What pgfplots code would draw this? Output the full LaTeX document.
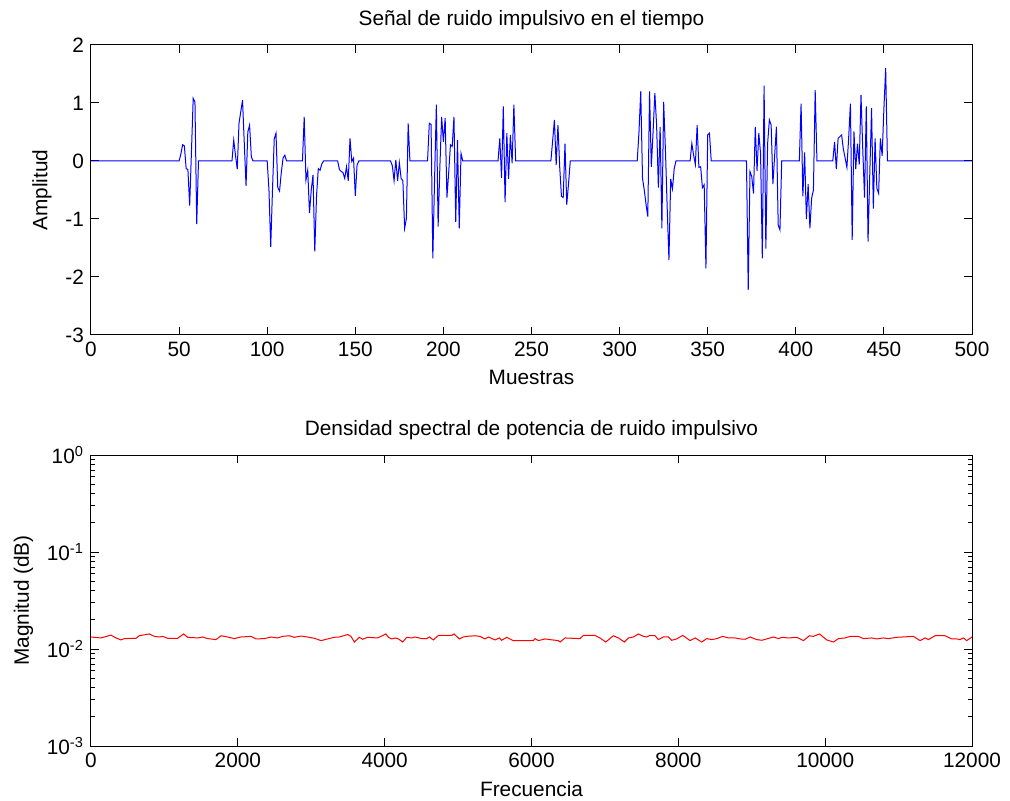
\documentclass[border=0pt]{standalone}
\usepackage{fontspec}
\setmainfont{Liberation Sans}
\usepackage{pgfplots}
\pgfplotsset{compat=1.18}

% time signal
\pgfplotstableread{
n v
0 0
50 0
51 0.12
52 0.28
53 0.26
54 -0.13
55 -0.15
56 -0.77
57 0.15
58 1.08
59 1.02
60 -1.09
61 0
80 0
81 0.36
82 0.1
83 -0.14
84 0.65
85 0.85
86 1.05
87 0.3
88 -0.43
89 0.5
90 0.62
91 0.07
92 0
100 0
101 -0.5
102 -1.48
103 -0.5
104 0.38
105 0.48
106 -0.46
107 -0.52
108 -0.2
109 0.05
110 0.1
111 0
120 0
121 0.76
122 -0.33
123 -0.16
124 -0.9
125 -0.5
126 -0.24
127 -1.56
128 -0.6
129 -0.13
130 -0.16
131 -0.05
132 0
140 0
141 -0.15
142 -0.18
143 -0.2
144 -0.3
145 -0.1
146 -0.34
147 0.39
148 -0.01
149 0.05
150 -0.6
151 -0.07
152 0
170 0
171 -0.08
172 -0.34
173 0.02
174 -0.34
175 -0.03
176 -0.3
177 -0.34
178 -1.16
179 -0.99
180 0.65
181 0
191 0
192 0.65
193 0.63
194 -1.68
195 -0.3
196 0.97
197 -1.13
198 -0.1
199 0.76
200 0.33
201 0.74
202 -0.63
203 -0.2
204 0.28
205 0.25
206 0.76
207 -1.05
208 0.36
209 -1.16
210 0.13
211 0
231 0
232 0.39
233 -0.29
234 0.94
235 -0.71
236 0.48
237 -0.31
238 0.45
239 -0.04
240 0.97
241 0
261 0
262 0.35
263 0.71
264 -0.07
265 0.62
266 -0.1
267 -0.61
268 -0.63
269 0.3
270 -0.75
271 -0.4
272 0
310 0
311 0.5
312 1.2
313 -0.3
314 -0.5
315 -0.75
316 -0.96
317 1.2
318 -0.1
319 0.5
320 1.17
321 0.62
322 -0.46
323 0.59
324 -1.16
325 1.02
326 0.2
327 -0.8
328 -1.71
329 -0.31
330 -0.48
331 -0.13
332 0
340 0
341 0.3
342 0.1
343 -0.06
344 0.62
345 -0.11
346 -0.1
347 -0.46
348 -0.41
349 -1.85
350 0.45
351 0.48
352 0
372 0
373 -2.22
374 -0.18
375 -0.27
376 -0.56
377 0.59
378 -0.17
379 0.48
380 0.13
381 -1.68
382 1.3
383 -1.51
384 0.3
385 0.71
386 0.62
387 -0.4
388 0.1
389 0.59
390 -1.1
391 -1.19
392 0
402 0
403 0.99
404 -0.61
405 0.15
406 -1.0
407 -0.4
408 -1.16
409 -0.64
410 -0.5
411 1.22
412 0
421 0
422 0.33
423 -0.14
424 0.39
425 0.42
426 0.45
427 0.2
428 0.05
429 -0.11
430 0.4
431 0.99
432 -1.36
433 0.51
434 -0.14
435 0.3
436 -0.06
437 1.14
438 0.2
439 -0.63
440 0.94
441 -1.39
442 -0.2
443 0.91
444 -0.82
445 0.39
446 -0.47
447 -0.56
448 0.39
449 0.09
450 0.9
451 1.6
452 0
500 0
}\senal

% power spectral density
\pgfplotstableread{
f p
0 0.0133
136 0.0130
182 0.0133
272 0.0139
341 0.0130
409 0.0124
454 0.0128
613 0.0129
658 0.0137
795 0.0143
863 0.0135
931 0.0133
976 0.0135
1044 0.0129
1180 0.0129
1262 0.0143
1317 0.0132
1453 0.0130
1521 0.0133
1589 0.0128
1703 0.0125
1771 0.0137
1861 0.0133
1952 0.0128
2043 0.0133
2179 0.0135
2247 0.0127
2361 0.0128
2452 0.0133
2542 0.0130
2611 0.0135
2701 0.0137
2769 0.0132
2860 0.0136
2951 0.0133
3042 0.0129
3133 0.0122
3223 0.0127
3314 0.0132
3382 0.0133
3496 0.0141
3541 0.0135
3587 0.0118
3655 0.0132
3700 0.0126
3768 0.0132
3904 0.0130
4018 0.0143
4051 0.0132
4096 0.0127
4141 0.0130
4187 0.0127
4246 0.0118
4300 0.0132
4368 0.0130
4414 0.0133
4505 0.0128
4573 0.0128
4609 0.0133
4663 0.0124
4732 0.0138
4913 0.0138
4945 0.0143
5018 0.0127
5072 0.0133
5117 0.0135
5231 0.0137
5299 0.0135
5367 0.0127
5413 0.0133
5503 0.0124
5562 0.0130
5594 0.0123
5662 0.0132
5753 0.0122
6025 0.0122
6048 0.0128
6094 0.0122
6184 0.0127
6252 0.0125
6366 0.0122
6389 0.0118
6457 0.0130
6661 0.0128
6706 0.0138
6865 0.0138
6933 0.0130
7011 0.0118
7115 0.0137
7183 0.0130
7265 0.0118
7319 0.0130
7387 0.0133
7456 0.0143
7524 0.0135
7569 0.0133
7614 0.0138
7683 0.0137
7728 0.0125
7796 0.0133
7864 0.0133
7909 0.0123
7977 0.0127
8023 0.0133
8061 0.0138
8160 0.0122
8229 0.0130
8319 0.0118
8387 0.0128
8456 0.0125
8524 0.0128
8605 0.0135
8683 0.0130
8773 0.0130
8841 0.0127
8910 0.0126
8978 0.0133
9068 0.0125
9137 0.0123
9250 0.0130
9295 0.0133
9364 0.0128
9409 0.0132
9500 0.0130
9613 0.0132
9704 0.0122
9786 0.0137
9840 0.0135
9922 0.0143
10022 0.0124
10113 0.0118
10181 0.0128
10272 0.0130
10340 0.0135
10453 0.0135
10521 0.0128
10635 0.0130
10703 0.0127
10794 0.0130
10862 0.0128
10975 0.0132
11202 0.0135
11293 0.0122
11361 0.0130
11406 0.0125
11497 0.0137
11633 0.0137
11724 0.0127
11792 0.0127
11837 0.0125
11883 0.0130
11928 0.0122
12000 0.0133
}\psd

\pgfplotsset{
  matlab/.style={
    scale only axis,
    width=440.5pt,
    font=\fontsize{10.4}{12}\selectfont,
    tick align=inside,
    major tick length=4pt,
    minor tick length=2pt,
    axis line style={line width=0.5pt},
    every tick/.style={black, line width=0.5pt},
    /pgf/number format/assume math mode=true,
    /pgf/number format/set thousands separator={},
    scaled ticks=false,
    title style={yshift=-2pt},
  },
}

\begin{document}
\begin{tikzpicture}
\useasboundingbox (-45.5pt,-27.5pt) rectangle (459.5pt,373pt);

\begin{axis}[matlab,
  at={(0pt,205.5pt)},
  height=145pt,
  xmin=0, xmax=500, ymin=-3, ymax=2,
  xtick={0,50,...,500},
  ytick={-3,-2,...,2},
  title={Señal de ruido impulsivo en el tiempo},
  xlabel={Muestras},
  ylabel={Amplitud},
]
\addplot[blue, line width=0.5pt] table[x=n, y=v] {\senal};
\end{axis}

\begin{axis}[matlab,
  at={(0pt,0pt)},
  height=145.5pt,
  ymode=log,
  xmin=0, xmax=12000, ymin=1e-3, ymax=1,
  xtick={0,2000,...,12000},
  ytick={0.001,0.01,0.1,1},
  yticklabels={10\textsuperscript{-3},10\textsuperscript{-2},10\textsuperscript{-1},10\textsuperscript{0}},
  minor ytick={0.002,0.003,0.004,0.005,0.006,0.007,0.008,0.009,
               0.02,0.03,0.04,0.05,0.06,0.07,0.08,0.09,
               0.2,0.3,0.4,0.5,0.6,0.7,0.8,0.9},
  title={Densidad spectral de potencia de ruido impulsivo},
  xlabel={Frecuencia},
  ylabel={Magnitud (dB)},
]
\addplot[red, line width=0.5pt] table[x=f, y=p] {\psd};
\end{axis}
\end{tikzpicture}
\end{document}
